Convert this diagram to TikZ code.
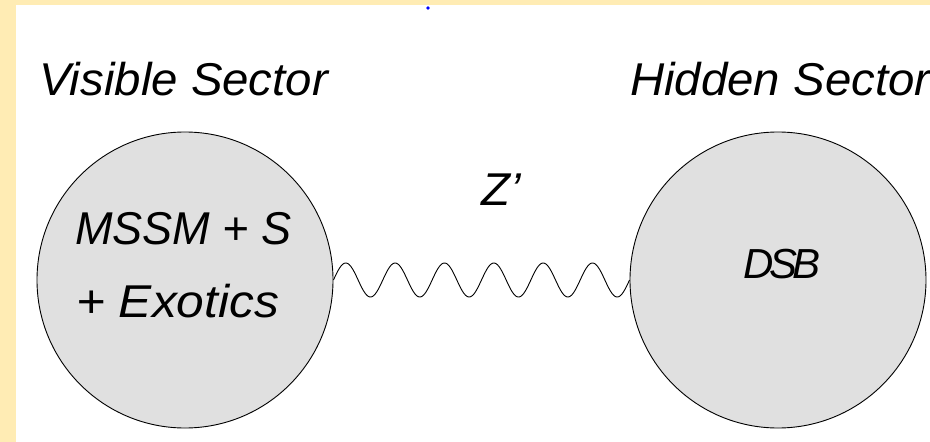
\documentclass[tikz,border=0pt]{standalone}
\usepackage{fontspec}
\setmainfont{Liberation Sans}
\usetikzlibrary{calc}
\definecolor{bgyellow}{HTML}{FFECB4}
\definecolor{ballgray}{HTML}{E0E0E0}
\begin{document}
\begin{tikzpicture}[x=1pt,y=-1pt,
  ball/.style={circle, draw=black, line width=0.9pt, fill=ballgray, minimum size=296pt, inner sep=0pt},
  lbl/.style={anchor=base west, inner sep=0pt, font=\fontsize{46}{55}\selectfont\itshape\addfontfeature{FakeStretch=1.03}},
  wave/.style={draw=black, line width=0.9pt}]
\useasboundingbox (0,0) rectangle (930,442);
\fill[bgyellow] (0,0) rectangle (930,442);
\fill[white] (16,5) rectangle (930,442);
\fill[blue] (428,8) circle (1.8);
\node[ball] (L) at (185,280) {};
\node[ball] (R) at (778,280) {};
\draw[wave] let \p1=(L.east), \p2=(R.west) in
  plot[variable=\t, domain=0:2160, samples=241, smooth] ({\x1+(\x2-\x1)*(\t/2160)}, {\y1+17pt*sin(\t)});
\node[lbl] (vis) at (39,95) {Visible Sector};
\node[lbl] (hid) at (630,95) {Hidden Sector};
\node[lbl] (z) at (481,205) {Z’};
\node[lbl, font=\fontsize{46}{55}\selectfont\itshape\addfontfeature{FakeStretch=0.98}] (mssm) at (75,244) {MSSM + S};
\node[lbl, font=\fontsize{46}{55}\selectfont\itshape\addfontfeature{FakeStretch=1.08}] (exo) at (76,317) {+ Exotics};
\node[lbl, font=\fontsize{42}{50}\selectfont\itshape] (dsb) at (743,278) {D\kern-4.5pt S\kern-4.5pt B};
\end{tikzpicture}
\end{document}
